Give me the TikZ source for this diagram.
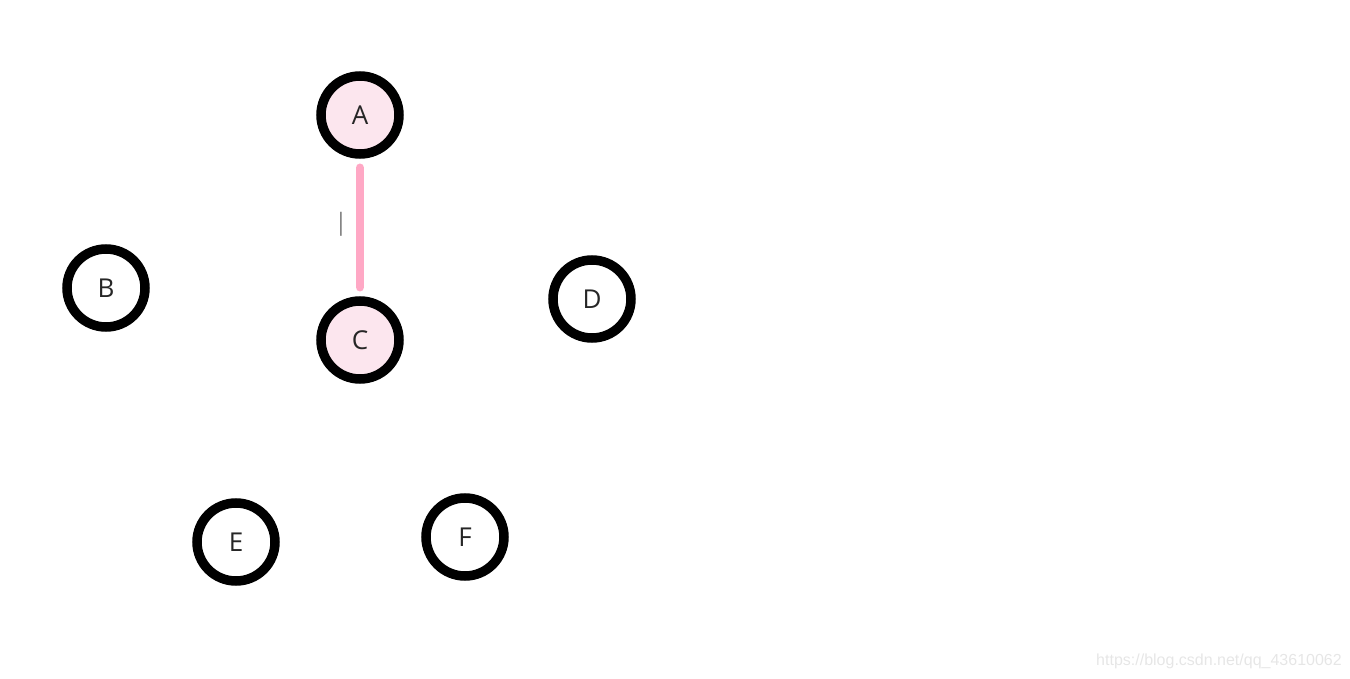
\documentclass[tikz,border=0pt]{standalone}
\usepackage{fontspec}
\setmainfont{Open Sans}
\newfontfamily\wmfont{Liberation Sans}
\definecolor{edgepink}{HTML}{FFA8C5}
\definecolor{fillpink}{HTML}{FCE6EE}
\definecolor{wm}{HTML}{E6E6E6}
\begin{document}
\begin{tikzpicture}[x=1pt,y=-1pt,
  vert/.style={circle,draw=black,line width=9.5pt,minimum size=78pt,inner sep=0pt,font=\fontsize{26}{28}\selectfont,text=black!85},
  visited/.style={vert,fill=fillpink},
  pedge/.style={draw=edgepink,line width=8.5pt,line cap=round}]
\useasboundingbox (0,0) rectangle (1350,679);
\node[visited] (A) at (360,115) {A};
\node[vert] (B) at (106,288) {B};
\node[visited] (C) at (360,340) {C};
\node[vert] (D) at (592,299) {D};
\node[vert] (E) at (236,542) {E};
\node[vert] (F) at (465,537) {F};
\draw[pedge,shorten <=9pt,shorten >=9pt] (A) -- (C);
\node[text=black!50,font=\fontsize{24}{26}\selectfont] (w) at (341,224) {|};
\node[text=wm,font=\fontsize{16}{18}\wmfont] (url) at (1219,661) {https://blog.csdn.net/qq\_43610062};
\end{tikzpicture}
\end{document}
